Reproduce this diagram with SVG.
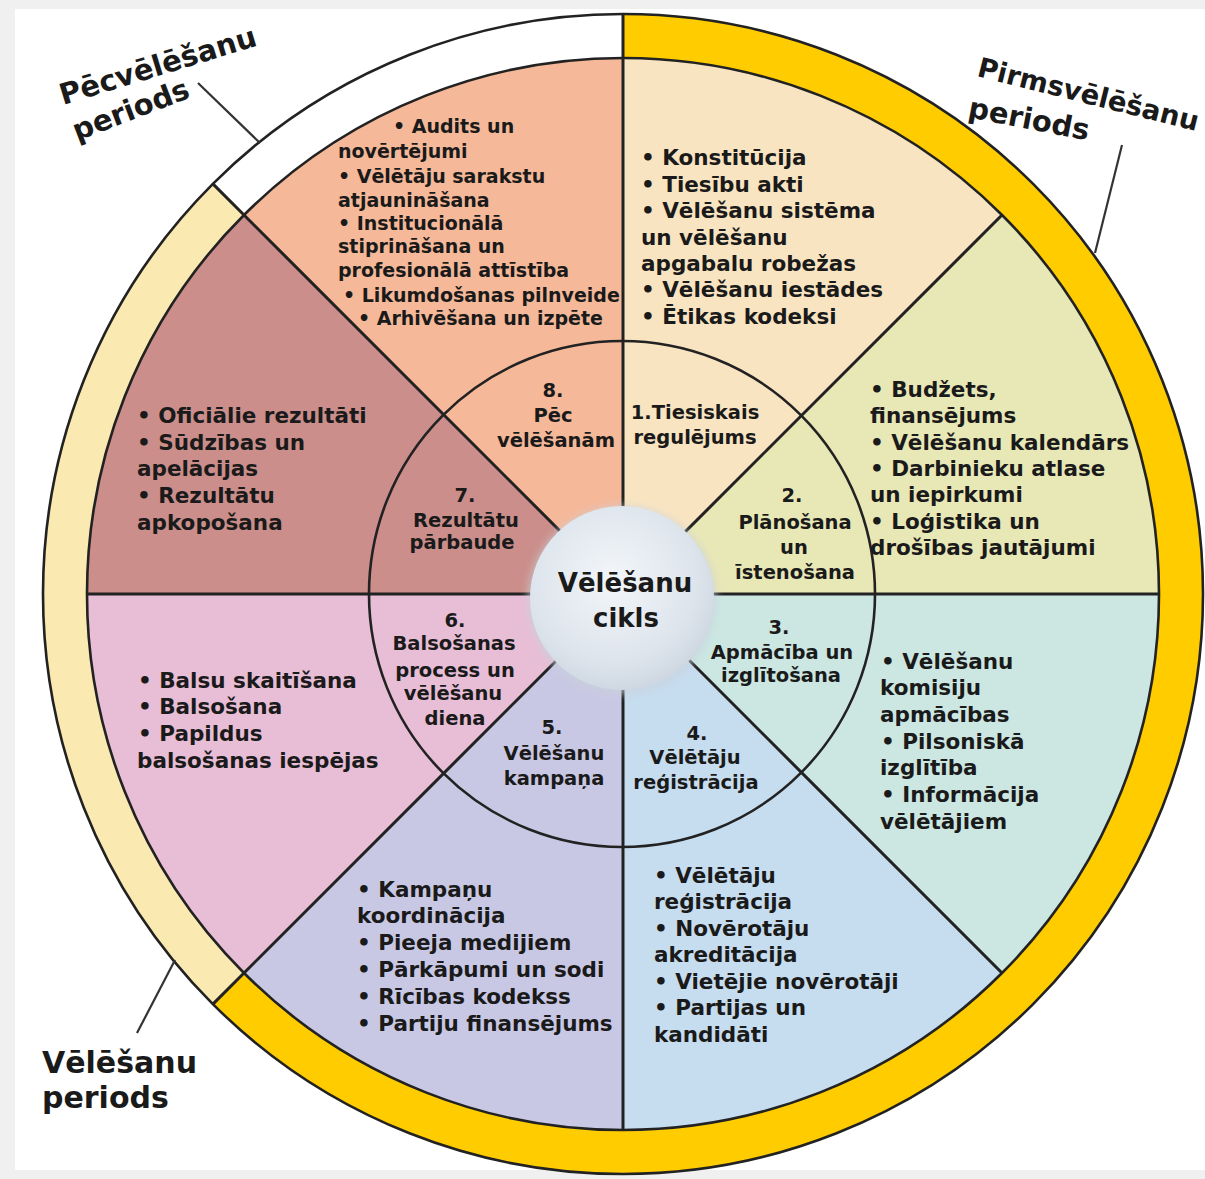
<svg xmlns="http://www.w3.org/2000/svg" width="1205" height="1179" viewBox="0 0 1205 1179">
<style>
.t{font-family:"DejaVu Sans",Verdana,sans-serif;font-weight:bold;fill:#1a1a1a}
.b{font-size:21.5px}
.m{font-size:19px}
.l{font-size:19.5px;text-anchor:middle}
.c{font-size:26px;text-anchor:middle}
.p{font-size:29px}
.ln{stroke:#222;stroke-width:2.6;fill:none}
.div{stroke:#222;stroke-width:3;fill:none}
</style>
<defs>
<radialGradient id="cg" cx="0.45" cy="0.4" r="0.6">
<stop offset="0" stop-color="#f3f6f9"/>
<stop offset="0.75" stop-color="#dde4ec"/>
<stop offset="1" stop-color="#cfd8e2"/>
</radialGradient>
<filter id="blur" x="-30%" y="-30%" width="160%" height="160%"><feGaussianBlur stdDeviation="4"/></filter>
</defs>
<rect width="1205" height="1179" fill="#f0f0f0"/>
<rect x="15" y="9" width="1190" height="1161" fill="#ffffff"/>

<g id="period-ring">
<path d="M623,14 A580,580 0 1 1 212.9,1004.1 L244,973 A536,536 0 1 0 623,58 Z" fill="#ffcc00"/>
<path d="M212.9,1004.1 A580,580 0 0 1 212.9,183.9 L244,215 A536,536 0 0 0 244,973 Z" fill="#fbe9b2"/>
<path d="M212.9,183.9 A580,580 0 0 1 623,14 L623,58 A536,536 0 0 0 244,215 Z" fill="#ffffff"/>
</g>

<g id="sector-8"><path d="M623,594 L244,215 A536,536 0 0 1 623,58 Z" fill="#f5b899"/></g>
<g id="sector-1"><path d="M623,594 L623,58 A536,536 0 0 1 1002,215 Z" fill="#f9e4c1"/></g>
<g id="sector-2"><path d="M623,594 L1002,215 A536,536 0 0 1 1159,594 Z" fill="#e8e7b6"/></g>
<g id="sector-3"><path d="M623,594 L1159,594 A536,536 0 0 1 1002,973 Z" fill="#cce7e2"/></g>
<g id="sector-4"><path d="M623,594 L1002,973 A536,536 0 0 1 623,1130 Z" fill="#c6dcef"/></g>
<g id="sector-5"><path d="M623,594 L623,1130 A536,536 0 0 1 244,973 Z" fill="#c9c8e4"/></g>
<g id="sector-6"><path d="M623,594 L244,973 A536,536 0 0 1 87,594 Z" fill="#e8bdd6"/></g>
<g id="sector-7"><path d="M623,594 L87,594 A536,536 0 0 1 244,215 Z" fill="#cb8e8a"/></g>

<g id="outlines">
<circle class="ln" cx="623" cy="594" r="580"/>
<circle class="ln" cx="623" cy="594" r="536"/>
<circle class="ln" cx="622" cy="594" r="253"/>
<path class="div" d="M623,594 L623,14 M623,594 L623,1130 M623,594 L87,594 M623,594 L1159,594 M623,594 L212.9,183.9 M623,594 L212.9,1004.1 M623,594 L1002,215 M623,594 L1002,973"/>
</g>

<g id="center">
<circle cx="622" cy="600" r="94" fill="#c9d2dc" opacity="0.7" filter="url(#blur)"/>
<circle cx="622" cy="598" r="92" fill="url(#cg)"/>
<text class="t c" x="625" y="592">Vēlēšanu</text>
<text class="t c" x="626" y="627">cikls</text>
</g>

<g id="labels-inner">
<text class="t l" x="553" y="397">8.</text>
<text class="t l" x="553" y="422">Pēc</text>
<text class="t l" x="556" y="447">vēlēšanām</text>
<text class="t l" x="695" y="419">1.Tiesiskais</text>
<text class="t l" x="695" y="444">regulējums</text>
<text class="t l" x="792" y="502">2.</text>
<text class="t l" x="795" y="529">Plānošana</text>
<text class="t l" x="794" y="554">un</text>
<text class="t l" x="795" y="579">īstenošana</text>
<text class="t l" x="779" y="634">3.</text>
<text class="t l" x="782" y="659">Apmācība un</text>
<text class="t l" x="781" y="682">izglītošana</text>
<text class="t l" x="697" y="740">4.</text>
<text class="t l" x="695" y="764">Vēlētāju</text>
<text class="t l" x="696" y="789">reģistrācija</text>
<text class="t l" x="552" y="734">5.</text>
<text class="t l" x="554" y="760">Vēlēšanu</text>
<text class="t l" x="554" y="785">kampaņa</text>
<text class="t l" x="455" y="627">6.</text>
<text class="t l" x="454" y="650">Balsošanas</text>
<text class="t l" x="455" y="677">process un</text>
<text class="t l" x="453" y="700">vēlēšanu</text>
<text class="t l" x="455" y="725">diena</text>
<text class="t l" x="465" y="502">7.</text>
<text class="t l" x="466" y="527">Rezultātu</text>
<text class="t l" x="462" y="549">pārbaude</text>
</g>

<g id="text-sector-8" class="t m">
<text x="393" y="133">• Audits un</text>
<text x="338" y="158">novērtējumi</text>
<text x="338" y="183">• Vēlētāju sarakstu</text>
<text x="338" y="207">atjaunināšana</text>
<text x="338" y="230">• Institucionālā</text>
<text x="338" y="253">stiprināšana un</text>
<text x="338" y="277">profesionālā attīstība</text>
<text x="343" y="302">• Likumdošanas pilnveide</text>
<text x="358" y="325">• Arhivēšana un izpēte</text>
</g>
<g id="text-sector-1" class="t b">
<text x="641" y="165">• Konstitūcija</text>
<text x="641" y="192">• Tiesību akti</text>
<text x="641" y="218">• Vēlēšanu sistēma</text>
<text x="641" y="245">un vēlēšanu</text>
<text x="641" y="271">apgabalu robežas</text>
<text x="641" y="297">• Vēlēšanu iestādes</text>
<text x="641" y="324">• Ētikas kodeksi</text>
</g>
<g id="text-sector-2" class="t b">
<text x="870" y="397">• Budžets,</text>
<text x="870" y="423">finansējums</text>
<text x="870" y="450">• Vēlēšanu kalendārs</text>
<text x="870" y="476">• Darbinieku atlase</text>
<text x="870" y="502">un iepirkumi</text>
<text x="870" y="529">• Loģistika un</text>
<text x="870" y="555">drošības jautājumi</text>
</g>
<g id="text-sector-3" class="t b">
<text x="881" y="669">• Vēlēšanu</text>
<text x="880" y="695">komisiju</text>
<text x="880" y="722">apmācības</text>
<text x="881" y="749">• Pilsoniskā</text>
<text x="880" y="775">izglītība</text>
<text x="881" y="802">• Informācija</text>
<text x="880" y="829">vēlētājiem</text>
</g>
<g id="text-sector-4" class="t b">
<text x="654" y="883">• Vēlētāju</text>
<text x="654" y="909">reģistrācija</text>
<text x="654" y="936">• Novērotāju</text>
<text x="654" y="962">akreditācija</text>
<text x="654" y="989">• Vietējie novērotāji</text>
<text x="654" y="1015">• Partijas un</text>
<text x="654" y="1042">kandidāti</text>
</g>
<g id="text-sector-5" class="t b">
<text x="357" y="897">• Kampaņu</text>
<text x="357" y="923">koordinācija</text>
<text x="357" y="950">• Pieeja medijiem</text>
<text x="357" y="977">• Pārkāpumi un sodi</text>
<text x="357" y="1004">• Rīcības kodekss</text>
<text x="357" y="1031">• Partiju finansējums</text>
</g>
<g id="text-sector-6" class="t b">
<text x="138" y="688">• Balsu skaitīšana</text>
<text x="138" y="714">• Balsošana</text>
<text x="138" y="741">• Papildus</text>
<text x="137" y="768">balsošanas iespējas</text>
</g>
<g id="text-sector-7" class="t b">
<text x="137" y="423">• Oficiālie rezultāti</text>
<text x="137" y="450">• Sūdzības un</text>
<text x="137" y="476">apelācijas</text>
<text x="137" y="503">• Rezultātu</text>
<text x="137" y="530">apkopošana</text>
</g>

<g id="period-labels" class="t p">
<text transform="translate(63,105) rotate(-17)">Pēcvēlēšanu</text>
<text transform="translate(77,141) rotate(-21)">periods</text>
<text transform="translate(976,76) rotate(14)" style="font-size:27.5px">Pirmsvēlēšanu</text>
<text transform="translate(967,117) rotate(11)">periods</text>
<text x="42" y="1073" style="font-size:30px">Vēlēšanu</text>
<text x="42" y="1108" style="font-size:30px">periods</text>
</g>

<g id="connectors" stroke="#333" stroke-width="2.2" fill="none">
<line x1="198" y1="83" x2="260" y2="143"/>
<line x1="1122" y1="145" x2="1095" y2="253"/>
<line x1="137" y1="1033" x2="175" y2="960"/>
</g>
</svg>
